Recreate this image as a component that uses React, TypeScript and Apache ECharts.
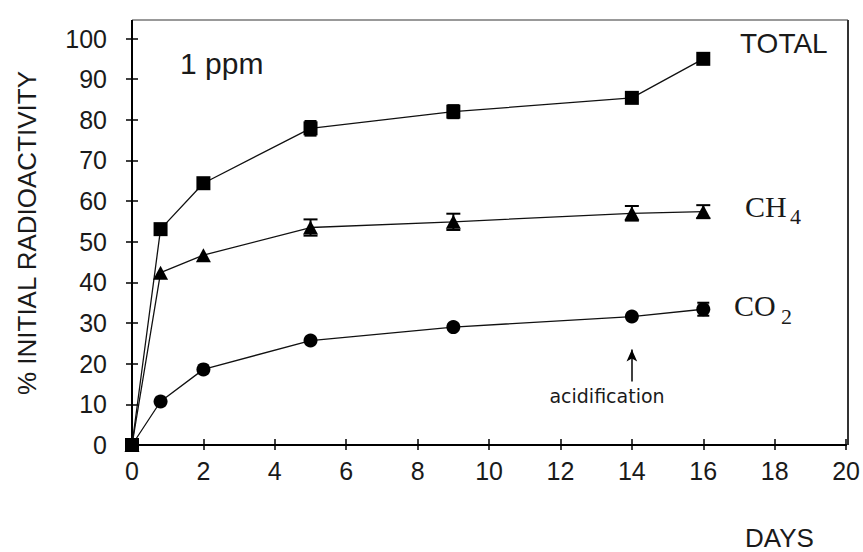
import React, { useEffect, useRef } from "react";
import * as echarts from "echarts";

const days = [0, 0.8, 2, 5, 9, 14, 16];
const totalValues = [0, 53.1, 64.4, 77.9, 82.0, 85.4, 95.0];
const ch4Values = [0, 42.4, 46.7, 53.5, 54.9, 57.0, 57.4];
const co2Values = [0, 10.7, 18.6, 25.7, 29.0, 31.6, 33.4];
const totalErr = [0, 0, 0, 1.8, 1.6, 0, 0];
const ch4Err = [0, 0, 0, 2.0, 2.0, 1.8, 1.6];
const co2Err = [0, 0, 0, 0, 0, 0, 1.6];
const acidDay = 14;
const acidArrow = [15.6, 23.5];

const FONT = "Liberation Sans";
const FONT2 = "DejaVu Sans";
const SERIF = "Liberation Serif";

function pairs(vals: number[]) {
  return days.map((d, i) => [d, vals[i]]);
}
function errs(vals: number[], e: number[]) {
  const out: number[][] = [];
  days.forEach((d, i) => {
    if (e[i] > 0) out.push([d, vals[i] - e[i], vals[i] + e[i]]);
  });
  return out;
}

const errRender = (capW: number) => (params: any, api: any) => {
  const x = api.value(0);
  const p1 = api.coord([x, api.value(1)]);
  const p2 = api.coord([x, api.value(2)]);
  const st = { stroke: "#000", lineWidth: 2 };
  return {
    type: "group",
    children: [
      { type: "line", shape: { x1: p1[0], y1: p1[1], x2: p2[0], y2: p2[1] }, style: st },
      { type: "line", shape: { x1: p1[0] - capW, y1: p1[1], x2: p1[0] + capW, y2: p1[1] }, style: st },
      { type: "line", shape: { x1: p2[0] - capW, y1: p2[1], x2: p2[0] + capW, y2: p2[1] }, style: st },
    ],
  };
};

export default function App() {
  const ref = useRef<HTMLDivElement>(null);
  useEffect(() => {
    if (!ref.current) return;
    const chart = echarts.init(ref.current, undefined, { renderer: "svg" });
    const lineStyle = { color: "#111", width: 1.3 };
    const axisCommon = { min: 0, splitLine: { show: false } };
    const txt = "#1a1a1a";
    chart.setOption({
      animation: false,
      backgroundColor: "#fff",
      grid: { left: 132, right: 15, top: 38.5, bottom: 107 },
      xAxis: [
        {
          type: "value", ...axisCommon, max: 20, interval: 2, position: "bottom",
          axisLine: { show: true, onZero: false, lineStyle: { color: "#000", width: 2 } },
          axisTick: { show: true, inside: false, length: 5, lineStyle: { color: "#000", width: 1.5 } },
          axisLabel: { color: txt, fontFamily: FONT, fontSize: 25, margin: 13 },
        },
        {
          type: "value", ...axisCommon, max: 20, interval: 2, position: "bottom",
          axisLine: { show: false },
          axisTick: { show: true, inside: true, length: 6, lineStyle: { color: "#000", width: 1.5 } },
          axisLabel: { show: false },
        },
      ],
      yAxis: [
        {
          type: "value", ...axisCommon, max: 100, interval: 10, position: "left",
          axisLine: { show: true, onZero: false, lineStyle: { color: "#000", width: 2 } },
          axisTick: { show: true, inside: false, length: 6, lineStyle: { color: "#000", width: 1.5 } },
          axisLabel: { color: txt, fontFamily: FONT, fontSize: 25, margin: 25 },
        },
        {
          type: "value", ...axisCommon, max: 100, interval: 10, position: "left",
          axisLine: { show: false },
          axisTick: { show: true, inside: true, length: 6, lineStyle: { color: "#000", width: 1.5 } },
          axisLabel: { show: false },
        },
      ],
      series: [
        {
          type: "line", name: "TOTAL", data: pairs(totalValues), symbol: "rect", symbolSize: 14,
          lineStyle, itemStyle: { color: "#000" }, z: 3,
        },
        {
          type: "line", name: "CH4", data: pairs(ch4Values), symbol: "triangle", symbolSize: [15, 14],
          lineStyle, itemStyle: { color: "#000" }, z: 3,
        },
        {
          type: "line", name: "CO2", data: pairs(co2Values), symbol: "circle", symbolSize: 14,
          lineStyle, itemStyle: { color: "#000" }, z: 3,
          markLine: {
            silent: true, symbol: ["none", "arrow"], symbolSize: [8, 12],
            lineStyle: { color: "#000", width: 1.5, type: "solid" },
            label: { show: false },
            data: [[{ coord: [acidDay, acidArrow[0]] }, { coord: [acidDay, acidArrow[1]] }]],
          },
        },
        { type: "custom", data: errs(totalValues, totalErr), renderItem: errRender(6), z: 4 },
        { type: "custom", data: errs(ch4Values, ch4Err), renderItem: errRender(7), z: 4 },
        { type: "custom", data: errs(co2Values, co2Err), renderItem: errRender(6), z: 4 },
      ],
      graphic: [
        { type: "line", shape: { x1: 132, y1: 20, x2: 848, y2: 20 }, style: { stroke: "#777", lineWidth: 1.5 } },
        { type: "line", shape: { x1: 848, y1: 20, x2: 848, y2: 445 }, style: { stroke: "#333", lineWidth: 2 } },
        { type: "line", shape: { x1: 132, y1: 20, x2: 132, y2: 445 }, style: { stroke: "#000", lineWidth: 2 } },
        {
          type: "text", x: 27, y: 233, rotation: Math.PI / 2,
          style: { text: "% INITIAL RADIOACTIVITY", font: `26px "${FONT}"`, fill: txt, textAlign: "center", textVerticalAlign: "middle" },
        },
        { type: "text", x: 180, y: 63, style: { text: "1 ppm", font: `30px "${FONT}"`, fill: txt, textAlign: "left", textVerticalAlign: "middle" } },
        { type: "text", x: 740, y: 43, style: { text: "TOTAL", font: `28px "${FONT}"`, fill: txt, textAlign: "left", textVerticalAlign: "middle" } },
        { type: "text", x: 745, y: 206, style: { text: "CH", font: `30px "${SERIF}"`, fill: txt, textAlign: "left", textVerticalAlign: "middle" } },
        { type: "text", x: 790, y: 216, style: { text: "4", font: `22px "${SERIF}"`, fill: txt, textAlign: "left", textVerticalAlign: "middle" } },
        { type: "text", x: 734, y: 305, style: { text: "CO", font: `30px "${SERIF}"`, fill: txt, textAlign: "left", textVerticalAlign: "middle" } },
        { type: "text", x: 781, y: 316, style: { text: "2", font: `22px "${SERIF}"`, fill: txt, textAlign: "left", textVerticalAlign: "middle" } },
        { type: "text", x: 607, y: 396, style: { text: "acidification", font: `19px "${FONT2}"`, fill: txt, textAlign: "center", textVerticalAlign: "middle" } },
        { type: "text", x: 745, y: 538, style: { text: "DAYS", font: `26px "${FONT}"`, fill: txt, textAlign: "left", textVerticalAlign: "middle" } },
      ],
    });
    return () => chart.dispose();
  }, []);
  return <div ref={ref} style={{ position: "absolute", left: 0, top: 0, width: 863, height: 552 }} />;
}
